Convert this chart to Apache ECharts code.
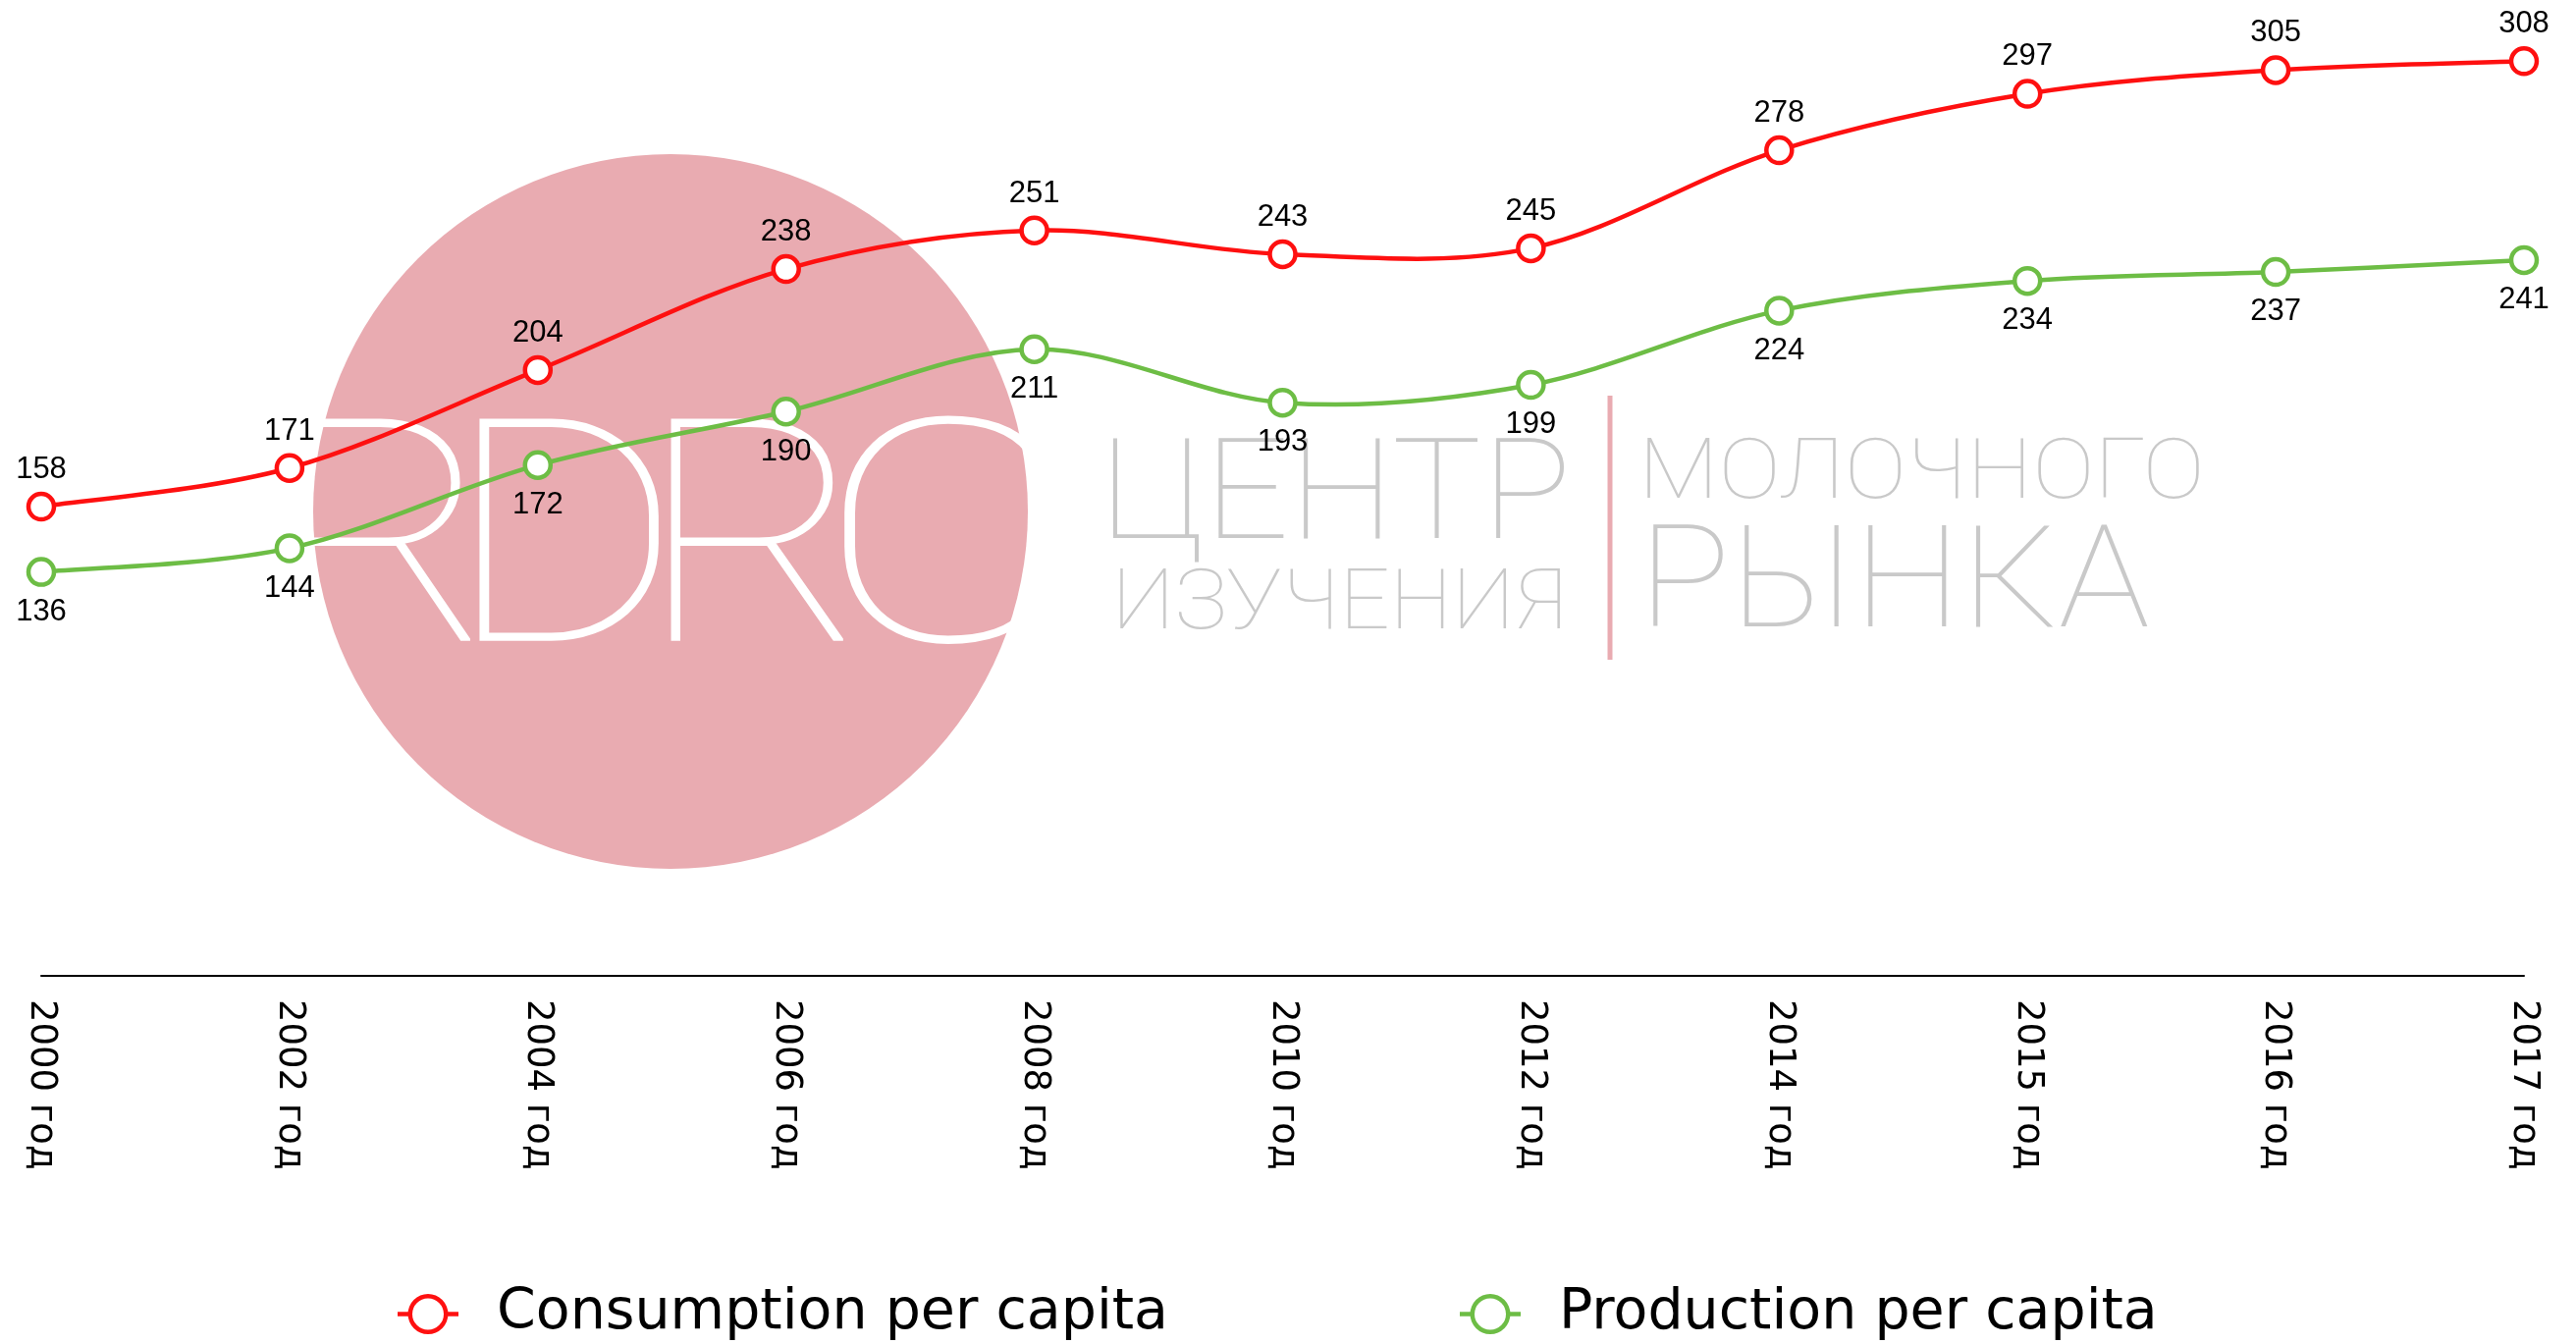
<!DOCTYPE html>
<html>
<head>
<meta charset="utf-8">
<title>Consumption and production per capita</title>
<script src="https://cdn.jsdelivr.net/npm/echarts@6/dist/echarts.min.js"></script>
<style>
  html, body { margin: 0; padding: 0; background: #fff; }
  #chart { width: 2624px; height: 1369px; }
</style>
</head>
<body>
<div id="chart"></div>
<script>
// data
const years = ['2000 год', '2002 год', '2004 год', '2006 год', '2008 год', '2010 год',
  '2012 год', '2014 год', '2015 год', '2016 год', '2017 год'];
const consumption = [158, 171, 204, 238, 251, 243, 245, 278, 297, 305, 308];
const production = [136, 144, 172, 190, 211, 193, 199, 224, 234, 237, 241];

const RED = '#fe1010';
const GREEN = '#6dbd45';
const PINK = '#e9abb1';
const GREY = '#c9c9c9';

// legend icon: short line + ring
const ICON = 'path://M0,18.2H12V22.8H0Z M50,18.2H62V22.8H50Z ' +
  'M31,0A20.5,20.5,0,1,1,31,41A20.5,20.5,0,1,1,31,0Z ' +
  'M31,4.5A16,16,0,1,0,31,36.5A16,16,0,1,0,31,4.5Z';

const measureCtx = document.createElement('canvas').getContext('2d');

// thin watermark text squeezed into a box
const fitText = (text, left, right, capTop, baseline, color, weight) => {
  const family = 'Roboto';
  measureCtx.font = weight + ' 100px ' + family;
  measureCtx.textBaseline = 'alphabetic';
  const capRatio = measureCtx.measureText('H').actualBoundingBoxAscent / 100;
  const size = (baseline - capTop) / capRatio;
  const font = weight + ' ' + size.toFixed(1) + 'px ' + family;
  measureCtx.font = font;
  measureCtx.textBaseline = 'middle';
  const m = measureCtx.measureText(text);
  const sx = (right - left) / (m.actualBoundingBoxLeft + m.actualBoundingBoxRight);
  const capAbove = measureCtx.measureText('H').actualBoundingBoxAscent;
  return {
    type: 'text',
    z: 1,
    silent: true,
    x: left + m.actualBoundingBoxLeft * sx,
    y: capTop + capAbove,
    scaleX: sx,
    style: { text, font, fill: color, align: 'left', verticalAlign: 'middle' }
  };
};

// curve through the points (catmull-rom), positions come from the axes
const curveSeries = (values, color) => ({
  type: 'custom',
  silent: true,
  z: 2,
  data: values.map((v, i) => [i, v]),
  encode: { x: 0, y: 1 },
  renderItem: (params, api) => {
    const i = params.dataIndex;
    if (i >= values.length - 1) return;
    const pt = k => {
      const j = Math.max(0, Math.min(values.length - 1, k));
      return api.coord([j, values[j]]);
    };
    const p0 = pt(i - 1), p1 = pt(i), p2 = pt(i + 1), p3 = pt(i + 2);
    return {
      type: 'bezierCurve',
      shape: {
        x1: p1[0], y1: p1[1], x2: p2[0], y2: p2[1],
        cpx1: p1[0] + (p2[0] - p0[0]) / 6, cpy1: p1[1] + (p2[1] - p0[1]) / 6,
        cpx2: p2[0] - (p3[0] - p1[0]) / 6, cpy2: p2[1] - (p3[1] - p1[1]) / 6
      },
      style: { stroke: color, lineWidth: 4.5, fill: null }
    };
  }
});

const labelStyle = {
  show: true,
  fontFamily: 'Liberation Sans',
  fontSize: 31,
  color: '#000'
};

const pointSeries = (name, values, color, labelPos, labelGap) => ({
  name,
  type: 'line',
  data: values,
  symbol: 'circle',
  symbolSize: 26,
  lineStyle: { opacity: 0 },
  itemStyle: { color: '#fff', borderColor: color, borderWidth: 4.5 },
  label: { ...labelStyle, position: labelPos, distance: labelGap },
  emphasis: { disabled: true },
  z: 4
});

const chart = echarts.init(document.getElementById('chart'));

const option = {
  backgroundColor: '#fff',
  animation: false,
  grid: { left: 42, right: 53, top: 26, bottom: 375 },
  graphic: [
    { type: 'circle', z: 1, silent: true, shape: { cx: 683, cy: 521, r: 364 }, style: { fill: PINK } },
    fitText('R', 308, 482, 424, 650, '#fff', 100),
    fitText('D', 487, 673, 424, 650, '#fff', 100),
    fitText('R', 683, 862, 424, 650, '#fff', 100),
    fitText('C', 857, 1075, 424, 650, '#fff', 100),
    fitText('ЦЕНТР', 1133, 1593, 446, 548, GREY, 100),
    fitText('ИЗУЧЕНИЯ', 1141, 1589, 579, 640, GREY, 100),
    { type: 'line', z: 1, silent: true, shape: { x1: 1640, y1: 403, x2: 1640, y2: 672 }, style: { stroke: PINK, lineWidth: 5 } },
    fitText('МОЛОЧНОГО', 1678, 2240, 446, 506, GREY, 100),
    fitText('РЫНКА', 1684, 2188, 535, 638, GREY, 100)
  ],
  legend: {
    left: 400,
    top: 1305,
    itemWidth: 62,
    itemHeight: 41,
    itemGap: 297,
    itemStyle: { borderWidth: 0 },
    textStyle: { fontFamily: 'DejaVu Sans', fontSize: 57, color: '#000', padding: [0, 0, 0, 34] },
    data: [
      { name: 'Consumption per capita', icon: ICON, itemStyle: { color: RED, borderWidth: 0 } },
      { name: 'Production per capita', icon: ICON, itemStyle: { color: GREEN, borderWidth: 0 } }
    ]
  },
  xAxis: {
    type: 'category',
    data: years,
    boundaryGap: false,
    axisLine: { lineStyle: { color: '#000', width: 2 } },
    axisTick: { show: false },
    axisLabel: {
      interval: 0,
      rotate: -90,
      margin: 24,
      fontFamily: 'DejaVu Sans',
      fontSize: 37,
      color: '#000'
    }
  },
  yAxis: { type: 'value', min: 0, max: 320, show: false },
  series: [
    curveSeries(production, GREEN),
    curveSeries(consumption, RED),
    pointSeries('Production per capita', production, GREEN, 'bottom', 10),
    pointSeries('Consumption per capita', consumption, RED, 'top', 7)
  ]
};

chart.setOption(option);
</script>
</body>
</html>
